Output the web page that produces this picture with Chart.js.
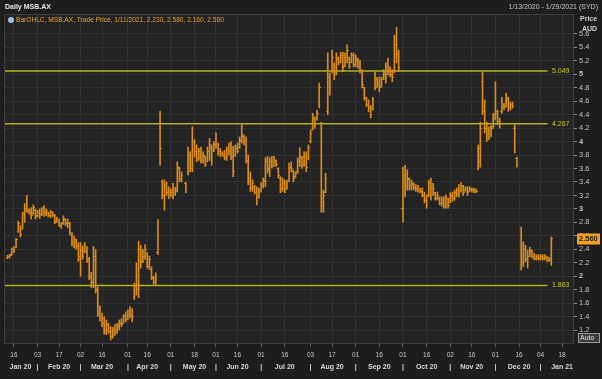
<!DOCTYPE html>
<html>
<head>
<meta charset="utf-8">
<script src="https://cdn.jsdelivr.net/npm/chart.js@4.4.1/dist/chart.umd.min.js"></script>
<style>
  html, body { margin: 0; padding: 0; background: #1d1d1d; }
  canvas { display: block; }
</style>
</head>
<body>
<canvas id="chart" width="602" height="379"></canvas>
<script>
// one row per ASX trading day, index 0 = 13 Jan 2020; [open, high, low, close], null = halted
const ohlc = [
  // Jan 20
  [2.27,2.31,2.26,2.29],[2.29,2.33,2.27,2.31],[2.32,2.42,2.31,2.40],[2.40,2.44,2.35,2.38],[2.43,2.56,2.42,2.54],
  [2.66,2.82,2.65,2.78],[2.72,2.75,2.58,2.62],[2.70,2.95,2.70,2.92],[2.95,3.08,2.80,2.98],[3.00,3.20,2.95,2.97],
  [2.96,3.00,2.92,2.94],[2.95,3.02,2.85,2.90],[2.93,3.06,2.92,3.02],[2.98,3.00,2.85,2.88],
  // Feb 20
  [2.90,2.98,2.88,2.95],[2.95,3.00,2.86,2.92],[2.92,3.02,2.90,3.00],[3.00,3.05,2.89,2.93],[2.94,3.00,2.90,2.97],
  [2.94,2.95,2.88,2.90],[2.90,2.98,2.87,2.95],[2.94,2.96,2.88,2.90],[2.90,2.92,2.78,2.80],[2.82,2.88,2.80,2.85],
  [2.84,2.85,2.74,2.76],[2.75,2.80,2.71,2.78],[2.78,2.90,2.77,2.86],[2.84,2.85,2.75,2.78],[2.78,2.85,2.72,2.80],
  [2.78,2.80,2.62,2.64],[2.60,2.65,2.45,2.50],[2.48,2.60,2.42,2.55],[2.52,2.55,2.40,2.44],[2.45,2.50,2.22,2.30],
  // Mar 20
  [2.25,2.50,2.00,2.40],[2.38,2.45,2.25,2.30],[2.36,2.50,2.35,2.45],[2.42,2.44,2.20,2.25],[2.22,2.28,1.95,2.00],
  [1.98,2.06,1.83,1.90],[1.90,2.44,1.83,2.30],[2.30,2.40,1.75,1.80],[1.78,1.84,1.40,1.45],[1.45,1.56,1.33,1.38],
  [1.40,1.45,1.25,1.30],[1.30,1.40,1.14,1.20],[1.20,1.35,1.13,1.28],[1.27,1.30,1.15,1.18],[1.18,1.25,1.05,1.10],
  [1.10,1.24,1.08,1.20],[1.20,1.28,1.12,1.15],[1.16,1.30,1.15,1.26],[1.25,1.35,1.20,1.30],[1.30,1.37,1.25,1.28],
  [1.30,1.43,1.30,1.40],[1.40,1.47,1.32,1.36],
  // Apr 20
  [1.36,1.50,1.35,1.45],[1.45,1.55,1.38,1.42],[1.42,1.52,1.32,1.40],[1.70,1.90,1.65,1.85],[1.85,2.20,1.72,1.80],
  [1.80,2.52,1.68,2.40],[2.40,2.46,2.12,2.20],[2.22,2.40,2.20,2.30],[2.30,2.47,2.25,2.40],[2.32,2.35,2.12,2.15],
  [2.15,2.30,2.10,2.25],[2.10,2.14,1.95,1.98],[1.96,2.00,1.88,1.92],[1.92,2.05,1.87,2.00],[2.35,2.84,2.32,2.70],
  [4.40,4.45,3.65,3.90],[3.40,3.43,3.15,3.20],[3.20,3.43,2.98,3.35],[3.35,3.40,3.20,3.25],[3.24,3.33,3.15,3.20],
  // May 20
  [3.20,3.30,3.18,3.25],[3.25,3.38,3.15,3.20],[3.22,3.32,3.20,3.28],[3.30,3.70,3.25,3.62],[3.60,3.62,3.40,3.45],
  [3.45,3.55,3.40,3.50],null,[3.38,3.40,3.24,3.28],[3.55,3.92,3.50,3.80],[3.80,3.85,3.55,3.60],
  [3.60,4.22,3.55,4.00],[4.00,4.03,3.77,3.85],[3.85,3.95,3.70,3.75],[3.75,3.90,3.72,3.85],[3.85,3.92,3.68,3.72],
  [3.72,3.85,3.68,3.80],[3.78,3.78,3.63,3.66],[3.70,3.92,3.70,3.85],[3.85,4.05,3.72,3.95],[3.92,3.95,3.65,3.70],
  [3.88,4.00,3.85,3.95],
  // Jun 20
  [3.95,4.13,3.90,4.05],[3.95,3.98,3.80,3.85],[3.85,3.90,3.78,3.82],[3.82,3.85,3.78,3.80],[3.80,3.87,3.73,3.76],
  [3.76,3.92,3.72,3.88],[3.88,3.98,3.80,3.85],[3.85,4.00,3.73,3.78],[3.78,3.93,3.48,3.55],[3.80,3.95,3.78,3.90],
  [3.90,3.98,3.83,3.86],[3.92,4.07,3.90,4.02],[4.02,4.27,3.98,4.10],[4.08,4.10,3.95,4.00],[4.00,4.07,3.68,3.72],
  [3.70,3.80,3.36,3.40],[3.45,3.55,3.26,3.30],[3.30,3.43,3.26,3.38],[3.32,3.35,3.22,3.25],[3.25,3.33,3.06,3.12],
  [3.17,3.31,3.16,3.28],
  // Jul 20
  [3.28,3.39,3.25,3.35],[3.35,3.46,3.31,3.42],[3.40,3.76,3.33,3.70],[3.70,3.78,3.53,3.58],[3.60,3.76,3.48,3.70],
  [3.70,3.78,3.61,3.65],[3.65,3.78,3.63,3.72],[3.70,3.73,3.63,3.66],[3.60,3.61,3.46,3.50],[3.45,3.48,3.24,3.30],
  [3.30,3.46,3.26,3.40],[3.38,3.43,3.24,3.30],[3.30,3.43,3.29,3.38],[3.42,3.68,3.40,3.62],[3.62,3.70,3.55,3.60],
  [3.56,3.58,3.40,3.45],[3.48,3.55,3.46,3.52],[3.55,3.76,3.53,3.70],[3.70,3.91,3.63,3.80],[3.76,3.78,3.60,3.65],
  [3.66,3.85,3.63,3.78],[3.78,3.85,3.55,3.62],[3.75,3.95,3.73,3.92],
  // Aug 20
  [4.00,4.17,3.98,4.12],[4.18,4.42,4.17,4.35],[4.35,4.37,4.20,4.25],[4.33,4.47,4.32,4.42],[4.55,4.87,4.50,4.80],
  [4.25,4.29,2.95,3.10],[3.05,3.28,2.95,3.20],[3.25,3.53,3.24,3.45],[4.45,5.32,4.40,5.10],[4.95,5.02,4.69,4.80],
  [5.05,5.36,5.02,5.25],[5.15,5.17,4.92,5.00],[5.02,5.32,4.99,5.25],[5.22,5.26,5.14,5.18],[5.18,5.33,5.17,5.28],
  [5.28,5.33,5.04,5.10],[5.12,5.32,5.11,5.25],[5.25,5.44,5.17,5.35],[5.24,5.26,5.09,5.12],[5.18,5.32,5.17,5.28],
  [5.28,5.32,5.11,5.15],
  // Sep 20
  [5.15,5.29,5.11,5.25],[5.22,5.24,5.09,5.12],[5.12,5.21,5.02,5.05],[5.05,5.07,4.80,4.85],[4.80,4.81,4.62,4.66],
  [4.64,4.66,4.52,4.55],[4.55,4.62,4.44,4.50],[4.50,4.54,4.35,4.40],[4.48,4.66,4.47,4.62],[4.80,5.04,4.77,4.95],
  [4.92,4.95,4.80,4.85],[4.85,4.96,4.74,4.80],[4.82,4.96,4.81,4.92],[4.93,5.07,4.92,5.02],[5.00,5.17,4.87,4.95],
  [5.00,5.24,4.99,5.15],[5.10,5.11,4.96,5.00],[5.00,5.07,4.89,4.95],[5.05,5.58,5.02,5.45],[5.45,5.70,5.17,5.30],
  [5.30,5.36,5.04,5.10],null,
  // Oct 20
  [3.00,3.62,2.80,3.50],[3.50,3.65,3.18,3.35],[3.35,3.58,3.28,3.45],[3.44,3.46,3.28,3.35],[3.35,3.43,3.28,3.38],
  [3.37,3.39,3.28,3.32],[3.32,3.36,3.26,3.30],[3.30,3.35,3.25,3.28],[3.28,3.31,3.24,3.26],[3.26,3.31,3.18,3.20],
  [3.20,3.25,3.09,3.12],[3.12,3.21,3.01,3.05],[3.20,3.43,3.18,3.38],[3.38,3.46,3.13,3.20],[3.22,3.38,3.20,3.30],
  [3.24,3.25,3.13,3.16],[3.16,3.25,3.13,3.20],[3.16,3.18,3.06,3.08],[3.08,3.18,3.04,3.12],[3.10,3.18,3.01,3.05],
  [3.05,3.21,3.01,3.15],[3.14,3.16,3.01,3.05],
  // Nov 20
  [3.10,3.24,3.09,3.20],[3.18,3.25,3.11,3.15],[3.15,3.28,3.13,3.25],[3.24,3.31,3.18,3.28],[3.28,3.36,3.18,3.22],
  [3.26,3.39,3.25,3.35],[3.33,3.35,3.20,3.25],[3.27,3.33,3.26,3.30],[3.30,3.33,3.20,3.24],[3.26,3.33,3.26,3.30],
  [3.29,3.31,3.25,3.27],[3.27,3.31,3.24,3.28],[3.28,3.30,3.24,3.26],[3.60,3.95,3.58,3.90],[3.70,4.29,3.62,4.20],
  [4.90,5.04,4.40,4.45],[4.45,4.62,4.13,4.20],[4.20,4.29,4.00,4.10],[4.10,4.22,4.03,4.15],[4.12,4.24,4.07,4.20],
  [4.22,4.42,4.20,4.35],
  // Dec 20
  [4.40,4.89,4.32,4.45],[4.42,4.47,4.25,4.30],[4.30,4.35,4.20,4.25],[4.45,4.66,4.42,4.60],[4.55,4.57,4.47,4.50],
  [4.52,4.72,4.52,4.65],[4.62,4.66,4.45,4.50],[4.50,4.59,4.47,4.55],[4.55,4.59,4.50,4.52],[4.20,4.25,3.83,3.90],
  [3.75,3.77,3.62,3.65],null,[2.60,2.73,2.09,2.20],[2.20,2.51,2.14,2.40],[2.40,2.46,2.21,2.25],
  [2.25,2.39,2.12,2.30],[2.30,2.43,2.29,2.38],[2.36,2.39,2.27,2.30],[2.30,2.34,2.24,2.26],[2.26,2.32,2.24,2.28],
  [2.28,2.32,2.24,2.26],
  // Jan 21
  [2.26,2.32,2.24,2.30],[2.29,2.32,2.24,2.26],[2.26,2.32,2.24,2.28],[2.28,2.30,2.22,2.24],[2.25,2.28,2.22,2.23],
  [2.23,2.58,2.16,2.56]
];

// x axis: trading-day index of each labelled date
const dayTicks = [[3,'16'],[14,'03'],[24,'17'],[34,'02'],[44,'16'],[56,'01'],[65,'16'],[76,'01'],[87,'18'],
  [97,'01'],[107,'16'],[118,'01'],[129,'16'],[141,'03'],[151,'17'],[162,'01'],[173,'16'],[184,'01'],[195,'16'],
  [206,'02'],[216,'16'],[227,'01'],[238,'16'],[248,'04'],[258,'18']];
const monthLabels = [[6,'Jan 20'],[24,'Feb 20'],[44,'Mar 20'],[65,'Apr 20'],[87,'May 20'],[107,'Jun 20'],
  [129,'Jul 20'],[151,'Aug 20'],[173,'Sep 20'],[195,'Oct 20'],[216,'Nov 20'],[238,'Dec 20'],[258,'Jan 21']];
const monthStarts = [14,34,56,76,97,118,141,162,184,206,227,248];
const yTicks = [1.2,1.4,1.6,1.8,2,2.2,2.4,2.6,2.8,3,3.2,3.4,3.6,3.8,4,4.2,4.4,4.6,4.8,5,5.2,5.4,5.6];
const levels = [5.049, 4.267, 1.863];
const lastClose = 2.56;
const legendText = 'BarOHLC, MSB.AX, Trade Price, 1/11/2021, 2.230, 2.580, 2.160, 2.560';

const family = '"Liberation Sans", Arial, sans-serif';
const barColor = '#d98b1c';
const levelColor = '#b4b41c';
const xMin = -1.16, xMax = 263.1;

function tickImage(left) {
    const c = document.createElement('canvas');
    c.width = 3; c.height = 1;
    const g = c.getContext('2d');
    g.fillStyle = barColor;
    g.fillRect(left ? 0 : 2, 0, 1, 1);
    return c;
}

const barData = [], openData = [], closeData = [];
ohlc.forEach((r, i) => {
    if (!r) return;
    barData.push({x: i, y: [r[2], r[1]]});
    openData.push({x: i, y: r[0]});
    closeData.push({x: i, y: r[3]});
});

const dayMap = new Map(dayTicks);
const monthMap = new Map(monthLabels);
monthStarts.forEach(i => monthMap.set(i, '|'));

const datasets = [
    {type: 'bar', data: barData, backgroundColor: barColor, barThickness: 1, grouped: false, order: 2},
    {type: 'scatter', data: openData, pointStyle: tickImage(true), pointRadius: 1.5, order: 1},
    {type: 'scatter', data: closeData, pointStyle: tickImage(false), pointRadius: 1.5, order: 1}
];
for (const lv of levels) {
    datasets.push({type: 'line', data: [{x: xMin, y: lv}, {x: 251.3, y: lv}],
        borderColor: levelColor, borderWidth: 1.5, pointRadius: 0, order: 3});
}

const decor = {
    id: 'decor',
    beforeDraw(chart) {
        const {ctx, chartArea: a, width, height} = chart;
        ctx.save();
        ctx.fillStyle = '#1d1d1d';
        ctx.fillRect(0, 0, width, height);
        ctx.fillStyle = '#232323';
        ctx.fillRect(a.left, a.top, a.right - a.left, a.bottom - a.top);
        ctx.restore();
    },
    afterDraw(chart) {
        const {ctx, chartArea: a} = chart;
        const ys = chart.scales.y;
        ctx.save();
        ctx.strokeStyle = '#3e3e3e';
        ctx.lineWidth = 1;
        ctx.strokeRect(a.left - 0.5, a.top - 0.5, a.right - a.left + 1, a.bottom - a.top + 1);

        ctx.textBaseline = 'middle';
        ctx.font = 'bold 7px ' + family;
        ctx.fillStyle = '#e6e6e6';
        ctx.textAlign = 'left';
        ctx.fillText('Daily MSB.AX', 5, 7);
        ctx.font = '7px ' + family;
        ctx.fillStyle = '#c8c8c8';
        ctx.textAlign = 'right';
        ctx.fillText('1/13/2020 - 1/29/2021 (SYD)', 598, 7);

        // legend line
        ctx.fillStyle = '#9fc3e6';
        ctx.beginPath();
        ctx.arc(11, 20, 3, 0, Math.PI * 2);
        ctx.fill();
        ctx.fillStyle = '#e8a033';
        ctx.textAlign = 'left';
        ctx.font = '6.6px ' + family;
        ctx.fillText(legendText, 16, 20);

        // axis header
        ctx.font = 'bold 7px ' + family;
        ctx.fillStyle = '#d0d0d0';
        ctx.fillText('Price', 580, 19);
        ctx.fillText('AUD', 582, 29);

        // level labels
        ctx.font = '7px ' + family;
        ctx.fillStyle = '#c8c81e';
        for (const lv of levels) {
            ctx.fillText(lv.toFixed(3), 552, ys.getPixelForValue(lv));
        }

        // last price box
        const py = ys.getPixelForValue(lastClose);
        ctx.fillStyle = '#f5a01e';
        ctx.fillRect(577, py - 5, 23, 11);
        ctx.fillStyle = '#1a1a1a';
        ctx.font = 'bold 7.5px ' + family;
        ctx.fillText(lastClose.toFixed(3), 579, py + 0.5);

        // Auto button
        ctx.fillStyle = '#3a3a3a';
        ctx.fillRect(578, 333, 22, 10);
        ctx.strokeStyle = '#9a9a9a';
        ctx.strokeRect(578.5, 333.5, 21, 9);
        ctx.fillStyle = '#e0e0e0';
        ctx.font = '7px ' + family;
        ctx.fillText('Auto', 580, 338.5);
        ctx.restore();
    }
};

new Chart(document.getElementById('chart'), {
    type: 'bar',
    data: {datasets: datasets},
    options: {
        responsive: false,
        animation: false,
        events: [],
        layout: {padding: {left: 4, top: 15, right: 0, bottom: 0}},
        plugins: {legend: {display: false}, tooltip: {enabled: false}},
        scales: {
            x: {
                type: 'linear', position: 'bottom', min: xMin, max: xMax, weight: 0, offset: false,
                afterBuildTicks: (s) => { s.ticks = dayTicks.map(t => ({value: t[0]})); },
                afterFit: (s) => { s.height = 14; },
                ticks: {autoSkip: false, maxRotation: 0, padding: 4, color: '#c8c8c8',
                    font: {size: 6.5, family: family}, callback: (v) => dayMap.get(v) || ''},
                grid: {color: '#303030', tickLength: 4, tickColor: '#5a5a5a', offset: false},
                border: {display: false}
            },
            x2: {
                type: 'linear', position: 'bottom', min: xMin, max: xMax, weight: 1, offset: false,
                afterBuildTicks: (s) => { s.ticks = [...monthMap.keys()].sort((p, q) => p - q).map(v => ({value: v})); },
                afterFit: (s) => { s.height = 22; },
                ticks: {autoSkip: false, maxRotation: 0, padding: 6, color: '#d8d8d8',
                    font: {size: 7, family: family, weight: 'bold'}, callback: (v) => monthMap.get(v) || ''},
                grid: {display: false, drawTicks: false, offset: false},
                border: {display: false}
            },
            y: {
                type: 'linear', position: 'right', min: 1.007, max: 5.882,
                afterBuildTicks: (s) => { s.ticks = yTicks.map(v => ({value: v})); },
                afterFit: (s) => { s.width = 29; },
                ticks: {autoSkip: false, padding: 2, color: '#c4c4c4',
                    font: (c) => ({size: 7.5, family: family,
                        weight: c.tick && Math.abs(c.tick.value - Math.round(c.tick.value)) < 1e-6 ? 'bold' : 'normal'}),
                    callback: (v) => String(+v.toFixed(1))},
                grid: {color: '#303030', tickLength: 4, tickColor: '#8a8a8a'},
                border: {color: '#3e3e3e'}
            }
        }
    },
    plugins: [decor]
});
</script>
</body>
</html>
